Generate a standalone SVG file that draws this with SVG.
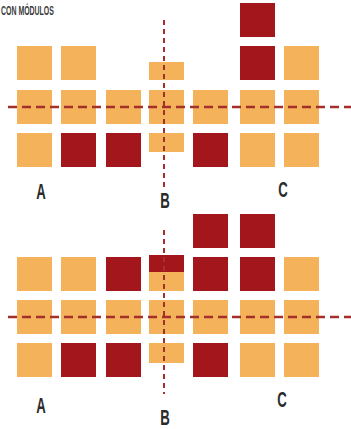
<svg xmlns="http://www.w3.org/2000/svg" width="351" height="429" viewBox="0 0 351 429">
<style>
.o{fill:#f4b25a}
.r{fill:#a3161b}
.h{stroke:#a3302a;stroke-width:2.4;stroke-dasharray:9 5;fill:none}
.v{stroke:#a3302a;stroke-width:2;stroke-dasharray:5 4;fill:none}
.lbl{font-family:"Liberation Sans",Arial,sans-serif;font-weight:bold;font-size:22px;fill:#2b2b2b;text-anchor:middle}
.ttl{font-family:"Liberation Sans",Arial,sans-serif;font-weight:bold;font-size:12px;fill:#3a3a3a}
</style>
<rect width="351" height="429" fill="#ffffff"/>
<text class="ttl" transform="translate(1,15) scale(0.58,1)">CON MÓDULOS</text>

<g id="panel-top">
  <rect class="r" x="240" y="3" width="35" height="34"/>
  <rect class="o" x="17" y="46" width="35" height="34"/>
  <rect class="o" x="61" y="46" width="35" height="34"/>
  <rect class="o" x="149" y="62" width="35" height="18"/>
  <rect class="r" x="240" y="46" width="35" height="34"/>
  <rect class="o" x="284" y="46" width="35" height="34"/>
  <rect class="o" x="17" y="90" width="35" height="34"/>
  <rect class="o" x="61" y="90" width="35" height="34"/>
  <rect class="o" x="106" y="90" width="35" height="34"/>
  <rect class="o" x="149" y="90" width="35" height="34"/>
  <rect class="o" x="193" y="90" width="35" height="34"/>
  <rect class="o" x="240" y="90" width="35" height="34"/>
  <rect class="o" x="284" y="90" width="35" height="34"/>
  <rect class="o" x="17" y="133" width="35" height="34"/>
  <rect class="r" x="61" y="133" width="35" height="34"/>
  <rect class="r" x="106" y="133" width="35" height="34"/>
  <rect class="o" x="149" y="133" width="35" height="19"/>
  <rect class="r" x="193" y="133" width="35" height="34"/>
  <rect class="o" x="240" y="133" width="35" height="34"/>
  <rect class="o" x="284" y="133" width="35" height="34"/>
</g>

<g id="panel-bottom">
  <rect class="r" x="193" y="214" width="35" height="34"/>
  <rect class="r" x="240" y="214" width="35" height="34"/>
  <rect class="o" x="17" y="257" width="35" height="34"/>
  <rect class="o" x="61" y="257" width="35" height="34"/>
  <rect class="r" x="106" y="257" width="35" height="34"/>
  <rect class="o" x="149" y="257" width="35" height="34"/>
  <rect class="r" x="149" y="255" width="35" height="17"/>
  <rect class="r" x="193" y="257" width="35" height="34"/>
  <rect class="r" x="240" y="257" width="35" height="34"/>
  <rect class="o" x="284" y="257" width="35" height="34"/>
  <rect class="o" x="17" y="300" width="35" height="34"/>
  <rect class="o" x="61" y="300" width="35" height="34"/>
  <rect class="o" x="106" y="300" width="35" height="34"/>
  <rect class="o" x="149" y="300" width="35" height="34"/>
  <rect class="o" x="193" y="300" width="35" height="34"/>
  <rect class="o" x="240" y="300" width="35" height="34"/>
  <rect class="o" x="284" y="300" width="35" height="34"/>
  <rect class="o" x="17" y="343" width="35" height="34"/>
  <rect class="r" x="61" y="343" width="35" height="34"/>
  <rect class="r" x="106" y="343" width="35" height="34"/>
  <rect class="o" x="149" y="343" width="35" height="20"/>
  <rect class="r" x="193" y="343" width="35" height="34"/>
  <rect class="o" x="240" y="343" width="35" height="34"/>
  <rect class="o" x="284" y="343" width="35" height="34"/>
</g>

<g id="connectors">
  <line class="h" x1="8" y1="107" x2="351" y2="107"/>
  <line class="v" x1="164" y1="20" x2="164" y2="188"/>
  <line class="h" x1="8" y1="317" x2="351" y2="317"/>
  <line class="v" x1="164" y1="230" x2="164" y2="394"/>
</g>

<g id="labels">
  <text class="lbl" transform="translate(41,199) scale(0.6,1)">A</text>
  <text class="lbl" transform="translate(165,208) scale(0.6,1)">B</text>
  <text class="lbl" transform="translate(283,197) scale(0.6,1)">C</text>
  <text class="lbl" transform="translate(41,413) scale(0.6,1)">A</text>
  <text class="lbl" transform="translate(165,425) scale(0.6,1)">B</text>
  <text class="lbl" transform="translate(282,407) scale(0.6,1)">C</text>
</g>
</svg>
